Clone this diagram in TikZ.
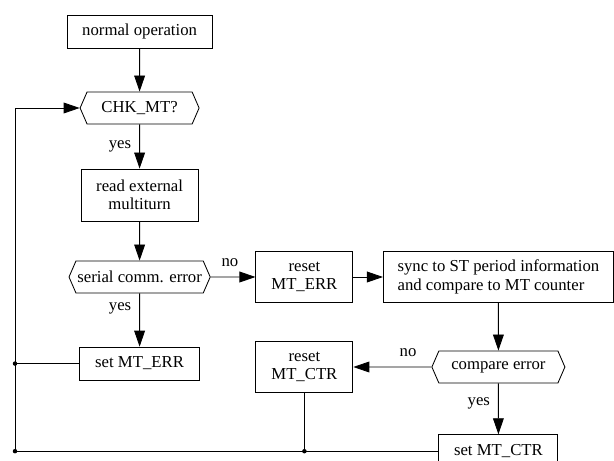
\documentclass[tikz,border=0pt]{standalone}
\usepackage{fontspec}
\setmainfont{Liberation Serif}
\newfontfamily\chartfont{Liberation Serif}
\usepackage{tikz}
\usetikzlibrary{arrows.meta}
\usetikzlibrary{shapes.symbols}
\usetikzlibrary{calc}

\begin{document}
\begin{tikzpicture}[line width=0.6pt,
    every node/.style={font=\chartfont\fontsize{11.9}{13.1}\selectfont},
    box/.style={rectangle, draw, align=center, inner sep=2pt},
    decide/.style={signal, signal to=west and east, signal pointer angle=133, draw, inner sep=1pt, minimum height=0.8cm},
    flow/.style={-{Triangle[length=4mm, width=2.7mm]}},
    lbl/.style={inner sep=0pt},
    dot/.style={circle, fill=black, inner sep=0pt, minimum size=3.2pt}]

        \useasboundingbox (0,0) rectangle (15.35,-11.525);

        \def\railx{0.375} % x of the return line on the left

        % main column
        \node[box, minimum width=3.625cm, minimum height=0.825cm] (op) at (3.49, -0.79) {normal operation};
        \node[decide, minimum width=2.975cm] (chk) at (3.49, -2.70) {CHK\_MT?};
        \node[box, minimum width=2.925cm, minimum height=1.3cm] (read) at (3.49, -4.875) {read external\\multiturn};
        \node[decide, minimum width=3.325cm] (serial) at (3.49, -6.925) {serial comm. error};
        \node[box, minimum width=3.0cm, minimum height=0.825cm] (seterr) at (3.49, -9.09) {set MT\_ERR};

        % right part
        \node[box, minimum width=2.425cm, minimum height=1.275cm] (reseterr) at (7.61, -6.925) {reset\\MT\_ERR};
        \node[box, minimum width=5.75cm, minimum height=1.275cm, align=left] (sync) at (12.46, -6.925) {sync to ST period information\\and compare to MT counter};
        \node[box, minimum width=2.425cm, minimum height=1.275cm] (resetctr) at (7.61, -9.175) {reset\\MT\_CTR};
        \node[decide, minimum width=3.325cm] (cmp) at (12.46, -9.175) {compare error};
        \node[box, minimum width=2.975cm, minimum height=0.825cm] (setctr) at (12.46, -11.28) {set MT\_CTR};

        \coordinate (lb) at (\railx, -11.28);

        \draw[flow] (op) -- (chk);
        \draw[flow] (chk) -- node[lbl, left=2mm] {yes} (read);
        \draw[flow] (read) -- (serial);
        \draw[flow] (serial) -- node[lbl, pos=0.28, left=2mm] {yes} (seterr);
        \draw[flow] (serial) -- node[lbl, pos=0.43, above=2.6mm] {no} (reseterr);
        \draw[flow] (reseterr) -- (sync);
        \draw[flow] (sync) -- (cmp);
        \draw[flow] (cmp) -- node[lbl, pos=0.3, above=2.6mm] {no} (resetctr);
        \draw[flow] (cmp) -- node[lbl, pos=0.4, left=2mm] {yes} (setctr);

        % return line
        \draw[flow] (setctr.west) -- (lb) |- (chk.west);
        \draw (seterr.west) -- (seterr.west -| lb);
        \draw (resetctr.south) -- (resetctr.south |- lb);

        \node[dot] (j1) at (lb) {};
        \node[dot] (j2) at (seterr.west -| lb) {};
        \node[dot] (j3) at (resetctr.south |- lb) {};

\end{tikzpicture}
\end{document}
